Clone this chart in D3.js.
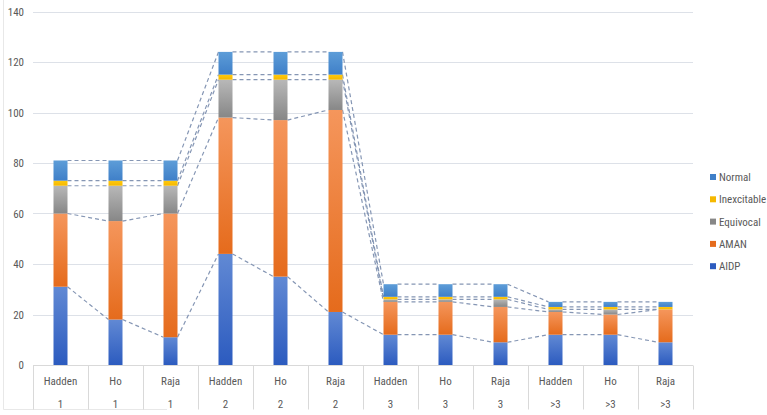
<!DOCTYPE html>
<html>
<head>
<meta charset="utf-8">
<script src="https://cdn.jsdelivr.net/npm/d3@7"></script>
<style>
  body { margin: 0; background: #fff; }
  svg text { font-family: "Liberation Sans Narrow", "Arial Narrow", "Roboto Condensed", sans-serif; font-size: 11px; fill: #595959; }
</style>
</head>
<body>
<div id="chart"></div>
<script>
const width = 767
const height = 415
const margin = { left: 33, right: 74, top: 11.5, bottom: 49.5 }

// categories (two-level x axis)
const names = ['Hadden', 'Ho', 'Raja', 'Hadden', 'Ho', 'Raja', 'Hadden', 'Ho', 'Raja', 'Hadden', 'Ho', 'Raja']
const groups = ['1', '1', '1', '2', '2', '2', '3', '3', '3', '>3', '>3', '>3']

// series values
const aidp = [31, 18, 11, 44, 35, 21, 12, 12, 9, 12, 12, 9]
const aman = [29, 39, 49, 54, 62, 80, 13, 13, 14, 9, 8, 13]
const equivocal = [11, 14, 11, 15, 16, 12, 1, 1, 3, 1, 2, 0]
const inexcitable = [2, 2, 2, 2, 2, 2, 1, 1, 1, 1, 1, 1]
const normal = [8, 8, 8, 9, 9, 9, 5, 5, 5, 2, 2, 2]

const keys = ['AIDP', 'AMAN', 'Equivocal', 'Inexcitable', 'Normal']
const yTicks = [0, 20, 40, 60, 80, 100, 120, 140]

// gradient stops per series: [top, bottom]
const fills = {
  AIDP: ['#6189d4', '#2c5bbf'],
  AMAN: ['#f5965c', '#e56b1c'],
  Equivocal: ['#b8b8b8', '#878787'],
  Inexcitable: ['#ffc90e', '#f5b800'],
  Normal: ['#5d9dd8', '#3f7fc8'],
}

const rows = names.map((n, i) => ({
  i: i, name: n, group: groups[i],
  AIDP: aidp[i], AMAN: aman[i], Equivocal: equivocal[i],
  Inexcitable: inexcitable[i], Normal: normal[i],
}))

const x_scale = d3.scaleBand()
  .domain(d3.range(rows.length))
  .range([margin.left, width - margin.right])
const y_scale = d3.scaleLinear()
  .domain([0, 140])
  .range([height - margin.bottom - 0.5, margin.top])
const barW = 14
const barX = i => x_scale(i) + (x_scale.bandwidth() - barW) / 2

const svg = d3.select('#chart')
  .append('svg')
    .attr('width', width)
    .attr('height', height)

const defs = svg.append('defs')
keys.forEach(k => {
  const g = defs.append('linearGradient')
    .attr('id', 'grad-' + k)
    .attr('x1', 0).attr('y1', 0).attr('x2', 0).attr('y2', 1)
  g.append('stop').attr('offset', '0%').attr('stop-color', fills[k][0])
  g.append('stop').attr('offset', '100%').attr('stop-color', fills[k][1])
})

// faint chart border
svg.append('line')
  .attr('x1', 3.5).attr('x2', 3.5).attr('y1', 0).attr('y2', 409.5)
  .style('stroke', '#e8e8e8')
svg.append('line')
  .attr('x1', 3.5).attr('x2', 167).attr('y1', 409.5).attr('y2', 409.5)
  .style('stroke', '#e8e8e8')

// gridlines
svg.append('g')
  .selectAll('line')
  .data(yTicks.filter(d => d > 0))
  .enter().append('line')
    .attr('x1', margin.left)
    .attr('x2', width - margin.right)
    .attr('y1', d => Math.round(y_scale(d)) + 0.5)
    .attr('y2', d => Math.round(y_scale(d)) + 0.5)
    .style('stroke', '#dde1e8')

// y axis labels
svg.append('g')
  .attr('transform', `translate(${margin.left},0)`)
  .call(d3.axisLeft(y_scale).tickValues(yTicks).tickSize(0).tickPadding(9))
  .call(g => g.selectAll('.domain').remove())
  .call(g => g.selectAll('text')
    .style('font-family', null).style('font-size', null).attr('fill', null))

// x axis base line and category separators
const y0 = Math.round(y_scale(0)) + 0.5
svg.append('line')
  .attr('x1', margin.left).attr('x2', width - margin.right)
  .attr('y1', y0).attr('y2', y0)
  .style('stroke', '#d9d9d9')
svg.append('g')
  .selectAll('line')
  .data(d3.range(rows.length + 1))
  .enter().append('line')
    .attr('x1', i => Math.round(margin.left + i * x_scale.bandwidth()) + 0.5)
    .attr('x2', i => Math.round(margin.left + i * x_scale.bandwidth()) + 0.5)
    .attr('y1', y0)
    .attr('y2', 409.5)
    .style('stroke', '#d9d9d9')

const labels = svg.append('g')
  .selectAll('g')
  .data(rows)
  .enter().append('g')
    .attr('transform', d => `translate(${x_scale(d.i) + x_scale.bandwidth() / 2},0)`)
labels.append('text')
  .attr('y', 385)
  .attr('text-anchor', 'middle')
  .text(d => d.name)
labels.append('text')
  .attr('y', 407.5)
  .attr('text-anchor', 'middle')
  .text(d => d.group)

const stack = d3.stack().keys(keys)
const series = stack(rows)

// series lines (dashed connectors between segment tops)
const connectors = []
series.forEach(s => {
  for (let i = 0; i < s.length - 1; i++) {
    connectors.push({ a: s[i], b: s[i + 1], i: i })
  }
})
svg.append('g')
  .selectAll('line')
  .data(connectors)
  .enter().append('line')
    .attr('x1', d => barX(d.i) + barW)
    .attr('y1', d => y_scale(d.a[1]))
    .attr('x2', d => barX(d.i + 1))
    .attr('y2', d => y_scale(d.b[1]))
    .style('stroke', '#8596b4')
    .style('stroke-width', 1.2)
    .style('stroke-dasharray', '4,3')

// stacked bars
svg.append('g')
  .selectAll('g')
  .data(series)
  .enter().append('g')
    .attr('fill', d => `url(#grad-${d.key})`)
  .selectAll('rect')
  .data(d => d.filter(v => v[1] > v[0]))
  .enter().append('rect')
    .attr('x', d => barX(d.data.i))
    .attr('y', d => y_scale(d[1]))
    .attr('width', barW)
    .attr('height', d => y_scale(d[0]) - y_scale(d[1]))

// legend
const legend = svg.append('g')
  .selectAll('g')
  .data(keys.slice().reverse())
  .enter().append('g')
    .attr('transform', (d, i) => `translate(710,${177 + i * 22.3})`)
legend.append('rect')
  .attr('x', 0).attr('y', -3)
  .attr('width', 6).attr('height', 6)
  .attr('fill', d => fills[d][1])
legend.append('text')
  .attr('x', 9)
  .attr('y', 4)
  .text(d => d)
</script>
</body>
</html>
